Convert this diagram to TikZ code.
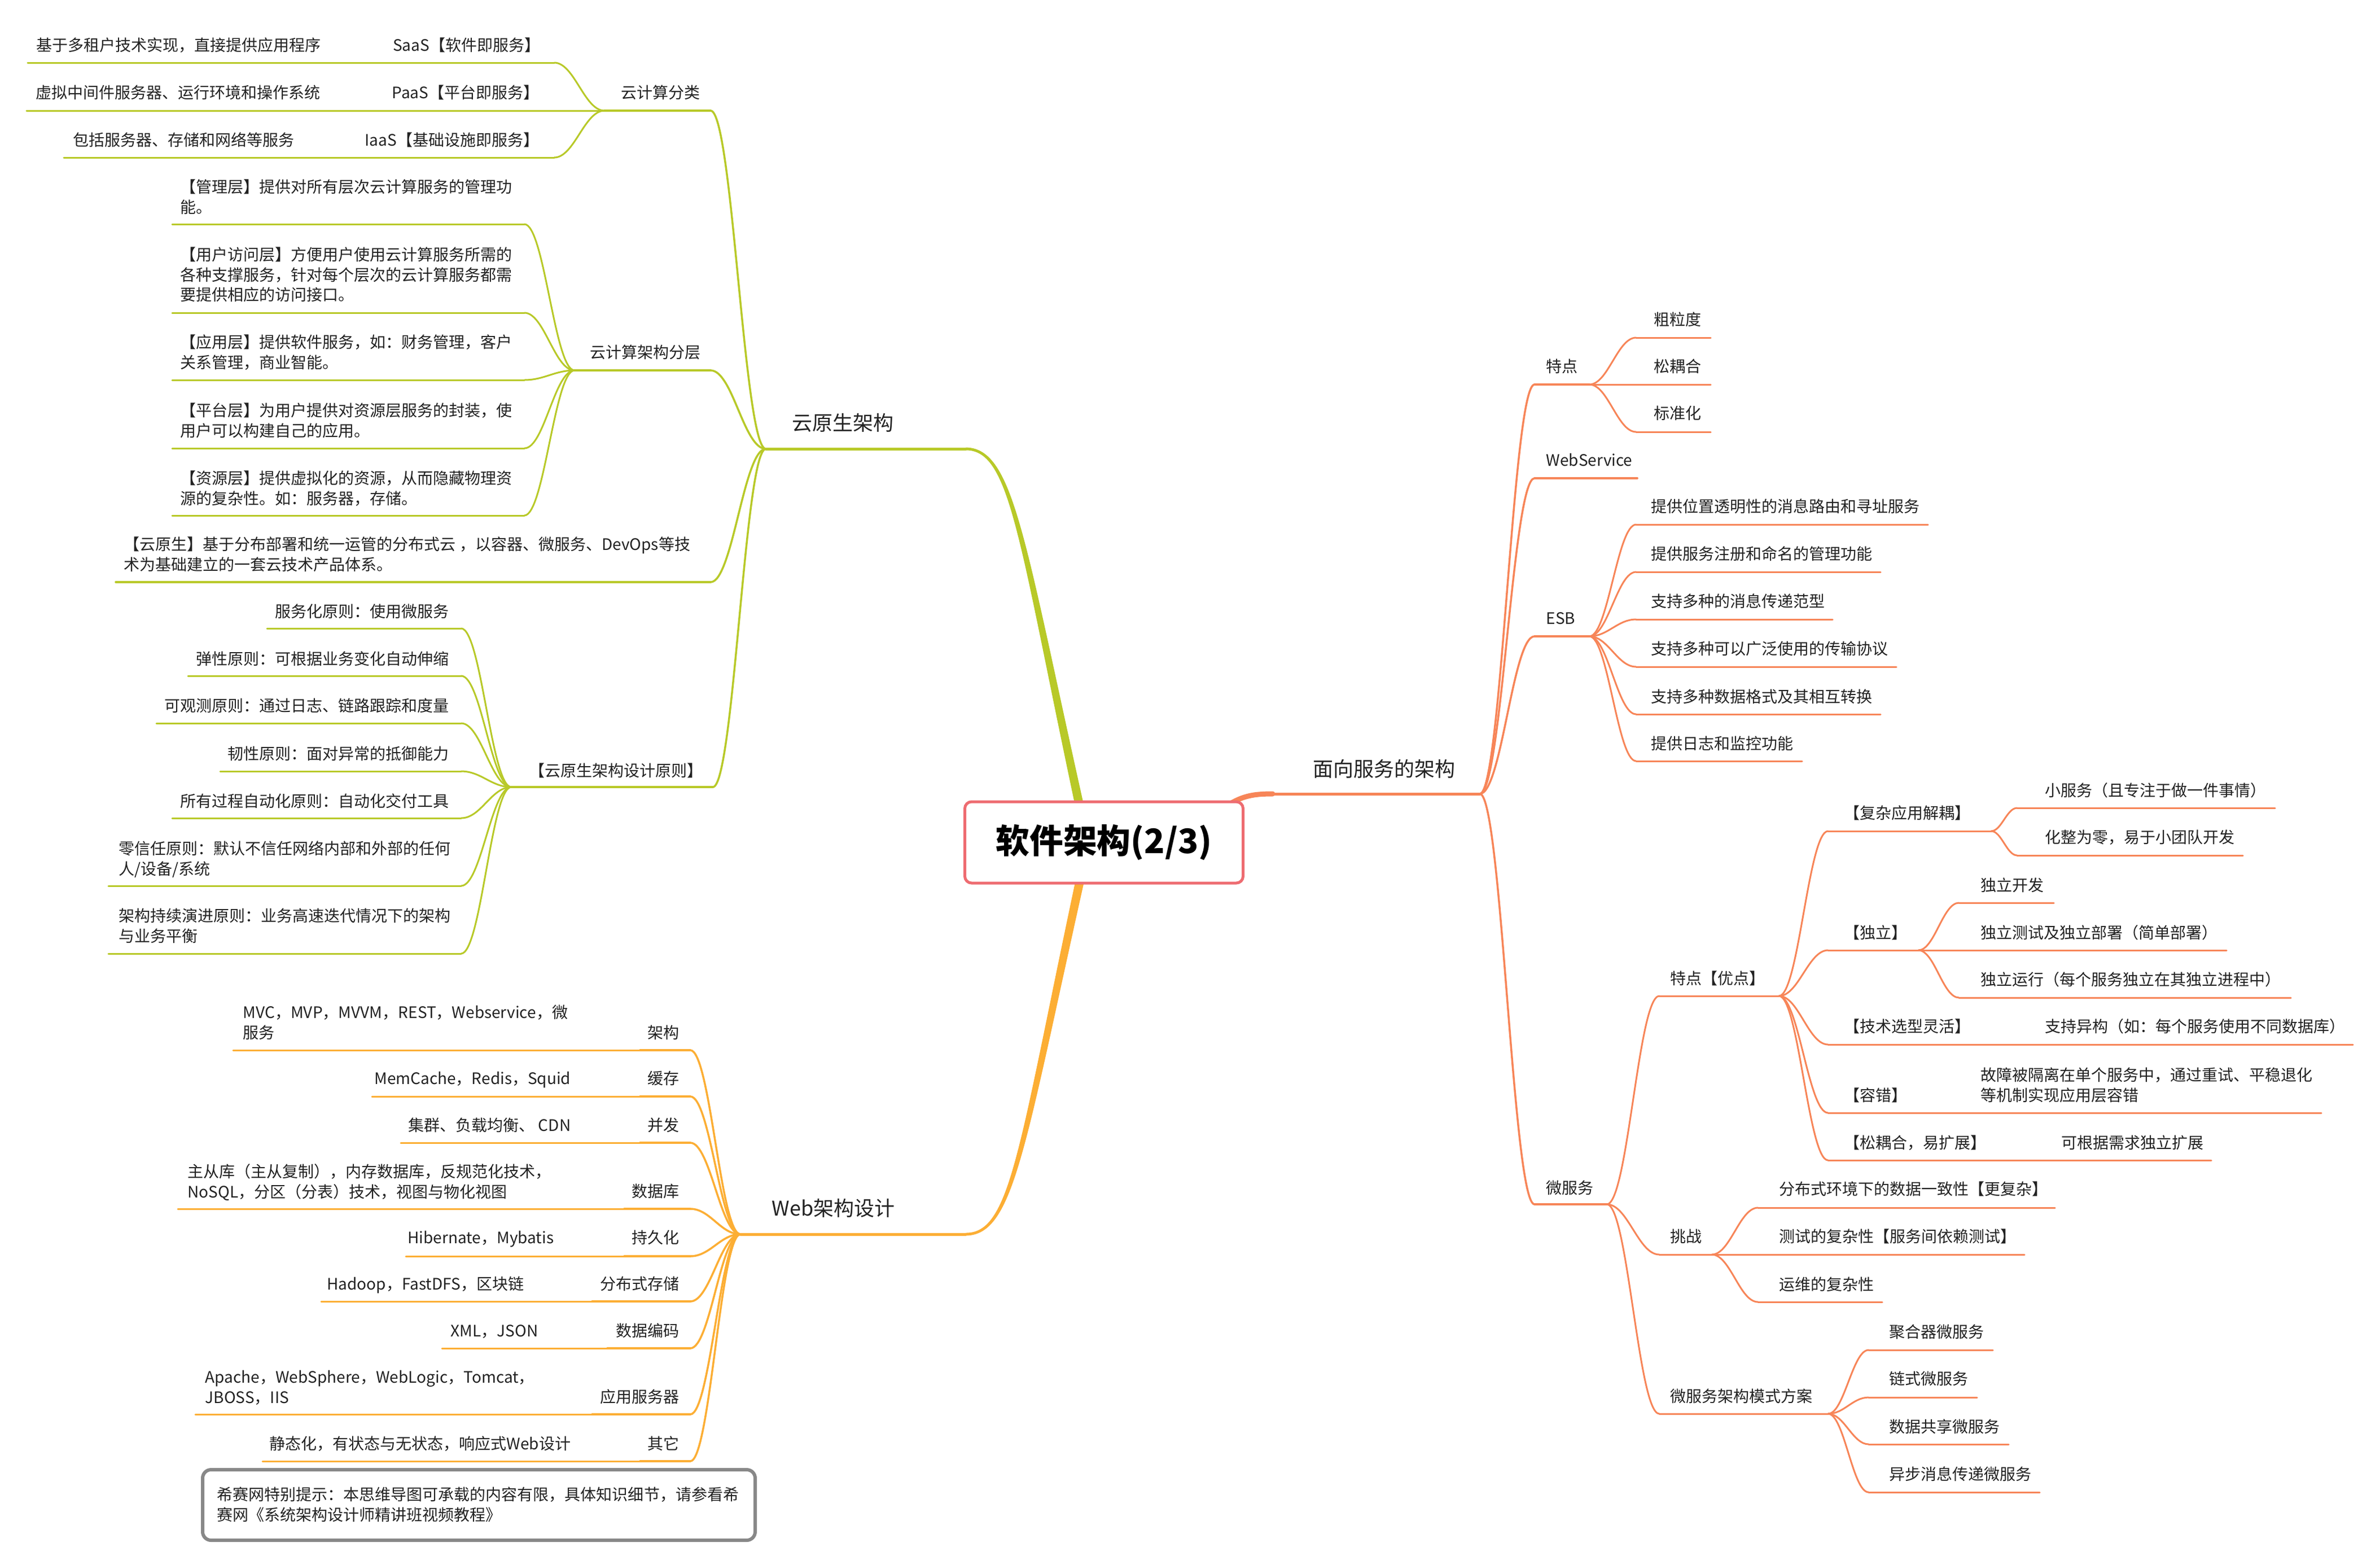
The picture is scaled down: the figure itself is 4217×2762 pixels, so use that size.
\documentclass[tikz,border=0pt]{standalone}
\usepackage{fontspec}
\setmainfont{Noto Sans CJK SC}
\usetikzlibrary{calc}
\definecolor{gr}{RGB}{184,201,40}
\definecolor{orc}{RGB}{252,174,52}
\definecolor{cor}{RGB}{247,133,88}
\definecolor{boxc}{RGB}{238,108,113}
\definecolor{txtc}{RGB}{34,34,34}
\definecolor{noteg}{RGB}{136,136,136}
\newcommand\fsz{\fontsize{7.97pt}{10.24pt}\selectfont}
\newcommand\fmid{\fontsize{10.24pt}{13pt}\selectfont}
\newcommand\ftit{\fontsize{17pt}{20pt}\selectfont\bfseries}
\newcommand\mlines[1]{\begin{tabular}[t]{@{}l@{}}#1\end{tabular}}
\newcommand\lnk[3][]{\draw[#1] let \p1=(#2), \p2=(#3), \n1={0.4*(\x2-\x1)} in (\p1) .. controls ($(\p1)+(\n1,0pt)$) and ($(\p2)-(\n1,0pt)$) .. (\p2);}
\newcommand\tul[5][]{\coordinate (#2-l) at (#4,#3); \coordinate (#2-r) at (#5,#3); \draw[#1] (#2-l) -- (#2-r);}
\tikzset{
  t/.style={inner sep=0pt, anchor=base west, font=\fsz, text=txtc},
  tr/.style={t, anchor=base east},
  lv1/.style={line width=0.35mm, line cap=round},
  lv2/.style={line width=0.3mm, line cap=round},
}
\begin{document}
\begin{tikzpicture}[x=0.1mm,y=-0.1mm]
\fill[white] (0,0) rectangle (4217,2762);
\useasboundingbox (0,0) rectangle (4217,2762);

% ================= GREEN: cloud native =================
\begin{scope}[draw=gr]
\coordinate (J0) at (1357,795);
\coordinate (G3) at (1711,795);
\fill[gr] (1912,1460) .. controls (1805,961) and (1792,796.5) .. (1711,797.5) -- (1711,792.5) .. controls (1798,793.5) and (1815,959) .. (1928,1460) -- cycle;
\draw[line width=0.5mm, line cap=round] (J0) -- (G3);
\node[t, font=\fmid] (yys) at (1403,762) {云原生架构};

% 云计算分类
\tul[lv1]{A}{196}{1071}{1259}
\lnk[lv1]{J0}{A-r}
\node[t] (A) at (1100,174) {云计算分类};
\tul[lv2]{saas}{111}{690}{982}
\lnk[lv2]{A-l}{saas-r}
\node[tr] (saas) at (958,90) {SaaS【软件即服务】};
\tul[lv2]{saasd}{111}{49}{690}
\node[t] (saasd) at (64,90) {基于多租户技术实现，直接提供应用程序};
\tul[lv2]{paas}{196}{690}{982}
\lnk[lv2]{A-l}{paas-r}
\node[tr] (paas) at (956,174) {PaaS【平台即服务】};
\tul[lv2]{paasd}{196}{47}{690}
\node[t] (paasd) at (63,174) {虚拟中间件服务器、运行环境和操作系统};
\tul[lv2]{iaas}{279}{640}{982}
\lnk[lv2]{A-l}{iaas-r}
\node[tr] (iaas) at (956,258) {IaaS【基础设施即服务】};
\tul[lv2]{iaasd}{279}{113}{640}
\node[t] (iaasd) at (129,258) {包括服务器、存储和网络等服务};

% 云计算架构分层
\tul[lv1]{B}{656}{1018}{1259}
\lnk[lv1]{J0}{B-r}
\node[t] (B) at (1045,634) {云计算架构分层};
\tul[lv2]{b1}{397}{305}{929}
\lnk[lv2]{B-l}{b1-r}
\node[t] (b1) at (319,341) {\mlines{【管理层】提供对所有层次云计算服务的管理功\\能。}};
\tul[lv2]{b2}{554}{305}{929}
\lnk[lv2]{B-l}{b2-r}
\node[t] (b2) at (319,461) {\mlines{【用户访问层】方便用户使用云计算服务所需的\\各种支撑服务，针对每个层次的云计算服务都需\\要提供相应的访问接口。}};
\tul[lv2]{b3}{673}{305}{929}
\lnk[lv2]{B-l}{b3-r}
\node[t] (b3) at (319,616) {\mlines{【应用层】提供软件服务，如：财务管理，客户\\关系管理，商业智能。}};
\tul[lv2]{b4}{794}{305}{929}
\lnk[lv2]{B-l}{b4-r}
\node[t] (b4) at (319,737) {\mlines{【平台层】为用户提供对资源层服务的封装，使\\用户可以构建自己的应用。}};
\tul[lv2]{b5}{913}{305}{929}
\lnk[lv2]{B-l}{b5-r}
\node[t] (b5) at (319,857) {\mlines{【资源层】提供虚拟化的资源，从而隐藏物理资\\源的复杂性。如：服务器，存储。}};

% 云原生 definition
\tul[lv1]{C}{1031}{205}{1259}
\lnk[lv1]{J0}{C-r}
\node[t] (C) at (219,974) {\mlines{【云原生】基于分布部署和统一运管的分布式云 ，以容器、微服务、DevOps等技\\术为基础建立的一套云技术产品体系。}};

% 设计原则
\tul[lv1]{D}{1394}{906}{1263}
\lnk[lv1]{J0}{D-r}
\node[t] (D) at (937,1375) {【云原生架构设计原则】};
\tul[lv2]{d1}{1113}{473}{817}
\lnk[lv2]{D-l}{d1-r}
\node[tr] (d1) at (796,1093) {服务化原则：使用微服务};
\tul[lv2]{d2}{1197}{333}{817}
\lnk[lv2]{D-l}{d2-r}
\node[tr] (d2) at (796,1177) {弹性原则：可根据业务变化自动伸缩};
\tul[lv2]{d3}{1281}{277}{817}
\lnk[lv2]{D-l}{d3-r}
\node[tr] (d3) at (796,1260) {可观测原则：通过日志、链路跟踪和度量};
\tul[lv2]{d4}{1366}{390}{817}
\lnk[lv2]{D-l}{d4-r}
\node[tr] (d4) at (796,1345) {韧性原则：面对异常的抵御能力};
\tul[lv2]{d5}{1449}{305}{817}
\lnk[lv2]{D-l}{d5-r}
\node[tr] (d5) at (796,1429) {所有过程自动化原则：自动化交付工具};
\tul[lv2]{d6}{1569}{192}{817}
\lnk[lv2]{D-l}{d6-r}
\node[t] (d6) at (210,1513) {\mlines{零信任原则：默认不信任网络内部和外部的任何\\人/设备/系统}};
\tul[lv2]{d7}{1689}{192}{817}
\lnk[lv2]{D-l}{d7-r}
\node[t] (d7) at (210,1632) {\mlines{架构持续演进原则：业务高速迭代情况下的架构\\与业务平衡}};
\end{scope}

% ================= ORANGE: web =================
\begin{scope}[draw=orc]
\coordinate (JW) at (1312,2186);
\coordinate (O3) at (1711,2186);
\fill[orc] (1912,1530) .. controls (1805,2029) and (1792,2184.5) .. (1711,2183.5) -- (1711,2188.5) .. controls (1798,2187.5) and (1815,2031) .. (1928,1530) -- cycle;
\draw[line width=0.5mm, line cap=round] (JW) -- (O3);
\node[t, font=\fmid] (web) at (1367,2153) {Web架构设计};

\tul[lv1]{w1}{1860}{1134}{1223}
\lnk[lv1]{JW}{w1-r}
\node[tr] (w1) at (1204,1839) {架构};
\tul[lv2]{w1d}{1860}{413}{1134}
\node[t] (w1d) at (430,1803) {\mlines{MVC，MVP，MVVM，REST，Webservice，微\\服务}};

\tul[lv1]{w2}{1942}{1134}{1223}
\lnk[lv1]{JW}{w2-r}
\node[tr] (w2) at (1204,1920) {缓存};
\tul[lv2]{w2d}{1942}{659}{1134}
\node[tr] (w2d) at (1012,1920) {MemCache，Redis，Squid};

\tul[lv1]{w3}{2024}{1134}{1223}
\lnk[lv1]{JW}{w3-r}
\node[tr] (w3) at (1204,2003) {并发};
\tul[lv2]{w3d}{2024}{710}{1134}
\node[tr] (w3d) at (1012,2003) {集群、负载均衡、 CDN};

\tul[lv1]{w4}{2141}{1106}{1223}
\lnk[lv1]{JW}{w4-r}
\node[tr] (w4) at (1204,2120) {数据库};
\tul[lv2]{w4d}{2141}{315}{1106}
\node[t] (w4d) at (332,2085) {\mlines{主从库（主从复制），内存数据库，反规范化技术，\\NoSQL，分区（分表）技术，视图与物化视图}};

\tul[lv1]{w5}{2225}{1106}{1223}
\lnk[lv1]{JW}{w5-r}
\node[tr] (w5) at (1204,2202) {持久化};
\tul[lv2]{w5d}{2225}{719}{1106}
\node[tr] (w5d) at (982,2202) {Hibernate，Mybatis};

\tul[lv1]{w6}{2305}{1049}{1223}
\lnk[lv1]{JW}{w6-r}
\node[tr] (w6) at (1204,2284) {分布式存储};
\tul[lv2]{w6d}{2305}{569}{1049}
\node[tr] (w6d) at (929,2284) {Hadoop，FastDFS，区块链};

\tul[lv1]{w7}{2388}{1076}{1223}
\lnk[lv1]{JW}{w7-r}
\node[tr] (w7) at (1204,2367) {数据编码};
\tul[lv2]{w7d}{2388}{783}{1076}
\node[tr] (w7d) at (954,2367) {XML，JSON};

\tul[lv1]{w8}{2505}{1049}{1223}
\lnk[lv1]{JW}{w8-r}
\node[tr] (w8) at (1204,2484) {应用服务器};
\tul[lv2]{w8d}{2505}{346}{1049}
\node[t] (w8d) at (363,2449) {\mlines{Apache，WebSphere，WebLogic，Tomcat，\\JBOSS，IIS}};

\tul[lv1]{w9}{2588}{1134}{1223}
\lnk[lv1]{JW}{w9-r}
\node[tr] (w9) at (1204,2567) {其它};
\tul[lv2]{w9d}{2588}{465}{1134}
\node[tr] (w9d) at (1012,2567) {静态化，有状态与无状态，响应式Web设计};
\end{scope}

% note box
\draw[noteg, line width=0.6mm, rounded corners=1.5mm] (359,2603) rectangle (1338,2728);
\node[t] (note) at (384,2657) {\mlines{希赛网特别提示：本思维导图可承载的内容有限，具体知识细节，请参看希\\赛网《系统架构设计师精讲班视频教程》}};

% ================= CORAL: SOA =================
\begin{scope}[draw=cor]
\coordinate (JS) at (2622,1406);
\draw[line width=0.9mm, line cap=round] (2160,1436) .. controls (2195,1412) and (2212,1406) .. (2255,1406);
\draw[line width=0.5mm, line cap=round] (2250,1406) -- (JS);
\node[t, font=\fmid] (soa) at (2326,1375) {面向服务的架构};

% 特点
\tul[lv1]{s1}{681}{2719}{2816}
\lnk[lv1]{JS}{s1-l}
\node[t] (s1) at (2739,659) {特点};
\tul[lv2]{s11}{598}{2899}{3031}
\lnk[lv2]{s1-r}{s11-l}
\node[t] (s11) at (2930,576) {粗粒度};
\tul[lv2]{s12}{681}{2899}{3031}
\lnk[lv2]{s1-r}{s12-l}
\node[t] (s12) at (2930,659) {松耦合};
\tul[lv2]{s13}{765}{2899}{3031}
\lnk[lv2]{s1-r}{s13-l}
\node[t] (s13) at (2930,742) {标准化};

% WebService
\tul[lv1]{s2}{847}{2719}{2901}
\lnk[lv1]{JS}{s2-l}
\node[t] (s2) at (2739,825) {WebService};

% ESB
\tul[lv1]{s3}{1127}{2719}{2816}
\lnk[lv1]{JS}{s3-l}
\node[t] (s3) at (2739,1105) {ESB};
\tul[lv2]{e1}{929}{2899}{3416}
\lnk[lv2]{s3-r}{e1-l}
\node[t] (e1) at (2925,907) {提供位置透明性的消息路由和寻址服务};
\tul[lv2]{e2}{1013}{2899}{3332}
\lnk[lv2]{s3-r}{e2-l}
\node[t] (e2) at (2925,991) {提供服务注册和命名的管理功能};
\tul[lv2]{e3}{1097}{2899}{3247}
\lnk[lv2]{s3-r}{e3-l}
\node[t] (e3) at (2925,1075) {支持多种的消息传递范型};
\tul[lv2]{e4}{1181}{2899}{3360}
\lnk[lv2]{s3-r}{e4-l}
\node[t] (e4) at (2925,1159) {支持多种可以广泛使用的传输协议};
\tul[lv2]{e5}{1265}{2899}{3332}
\lnk[lv2]{s3-r}{e5-l}
\node[t] (e5) at (2925,1244) {支持多种数据格式及其相互转换};
\tul[lv2]{e6}{1348}{2899}{3193}
\lnk[lv2]{s3-r}{e6-l}
\node[t] (e6) at (2925,1327) {提供日志和监控功能};

% 微服务
\tul[lv1]{s4}{2133}{2719}{2847}
\lnk[lv1]{JS}{s4-l}
\node[t] (s4) at (2739,2114) {微服务};

\tul[lv2]{m1}{1764}{2940}{3152}
\lnk[lv2]{s4-r}{m1-l}
\node[t] (m1) at (2959,1743) {特点【优点】};

\tul[lv2]{f1}{1472}{3239}{3528}
\lnk[lv2]{m1-r}{f1-l}
\node[t] (f1) at (3267,1450) {【复杂应用解耦】};
\tul[lv2]{f11}{1431}{3574}{4031}
\lnk[lv2]{f1-r}{f11-l}
\node[t] (f11) at (3623,1410) {小服务（且专注于做一件事情）};
\tul[lv2]{f12}{1515}{3574}{3974}
\lnk[lv2]{f1-r}{f12-l}
\node[t] (f12) at (3623,1493) {化整为零，易于小团队开发};

\tul[lv2]{f2}{1683}{3239}{3399}
\lnk[lv2]{m1-r}{f2-l}
\node[t] (f2) at (3267,1662) {【独立】};
\tul[lv2]{f21}{1599}{3471}{3639}
\lnk[lv2]{f2-r}{f21-l}
\node[t] (f21) at (3509,1578) {独立开发};
\tul[lv2]{f22}{1683}{3471}{3945}
\lnk[lv2]{f2-r}{f22-l}
\node[t] (f22) at (3509,1662) {独立测试及独立部署（简单部署）};
\tul[lv2]{f23}{1767}{3471}{4059}
\lnk[lv2]{f2-r}{f23-l}
\node[t] (f23) at (3509,1745) {独立运行（每个服务独立在其独立进程中）};

\tul[lv2]{f3}{1850}{3239}{3600}
\lnk[lv2]{m1-r}{f3-l}
\node[t] (f3) at (3267,1828) {【技术选型灵活】};
\tul[lv2]{f31}{1850}{3600}{4169}
\node[t] (f31) at (3623,1828) {支持异构（如：每个服务使用不同数据库）};

\tul[lv2]{f4}{1971}{3239}{3490}
\lnk[lv2]{m1-r}{f4-l}
\node[t] (f4) at (3267,1950) {【容错】};
\tul[lv2]{f41}{1971}{3490}{4113}
\node[t] (f41) at (3509,1914) {\mlines{故障被隔离在单个服务中，通过重试、平稳退化\\等机制实现应用层容错}};

\tul[lv2]{f5}{2055}{3239}{3630}
\lnk[lv2]{m1-r}{f5-l}
\node[t] (f5) at (3267,2034) {【松耦合，易扩展】};
\tul[lv2]{f51}{2055}{3630}{3918}
\node[t] (f51) at (3652,2034) {可根据需求独立扩展};

\tul[lv2]{m2}{2222}{2940}{3033}
\lnk[lv2]{s4-r}{m2-l}
\node[t] (m2) at (2959,2200) {挑战};
\tul[lv2]{c1}{2139}{3115}{3641}
\lnk[lv2]{m2-r}{c1-l}
\node[t] (c1) at (3152,2116) {分布式环境下的数据一致性【更复杂】};
\tul[lv2]{c2}{2222}{3115}{3587}
\lnk[lv2]{m2-r}{c2-l}
\node[t] (c2) at (3152,2200) {测试的复杂性【服务间依赖测试】};
\tul[lv2]{c3}{2306}{3115}{3335}
\lnk[lv2]{m2-r}{c3-l}
\node[t] (c3) at (3152,2285) {运维的复杂性};

\tul[lv2]{m3}{2504}{2940}{3239}
\lnk[lv2]{s4-r}{m3-l}
\node[t] (m3) at (2959,2483) {微服务架构模式方案};
\tul[lv2]{p1}{2391}{3311}{3531}
\lnk[lv2]{m3-r}{p1-l}
\node[t] (p1) at (3347,2369) {聚合器微服务};
\tul[lv2]{p2}{2475}{3311}{3503}
\lnk[lv2]{m3-r}{p2-l}
\node[t] (p2) at (3347,2452) {链式微服务};
\tul[lv2]{p3}{2558}{3311}{3559}
\lnk[lv2]{m3-r}{p3-l}
\node[t] (p3) at (3347,2537) {数据共享微服务};
\tul[lv2]{p4}{2643}{3311}{3614}
\lnk[lv2]{m3-r}{p4-l}
\node[t] (p4) at (3347,2621) {异步消息传递微服务};
\end{scope}

% ================= ROOT =================
\node[draw=boxc, line width=0.5mm, rounded corners=1.2mm, fill=white, minimum width=49.3mm, minimum height=14.4mm, inner sep=0pt, font=\ftit, text=black] (root) at (1956,1492) {软件架构(2/3)};
\end{tikzpicture}
\end{document}
